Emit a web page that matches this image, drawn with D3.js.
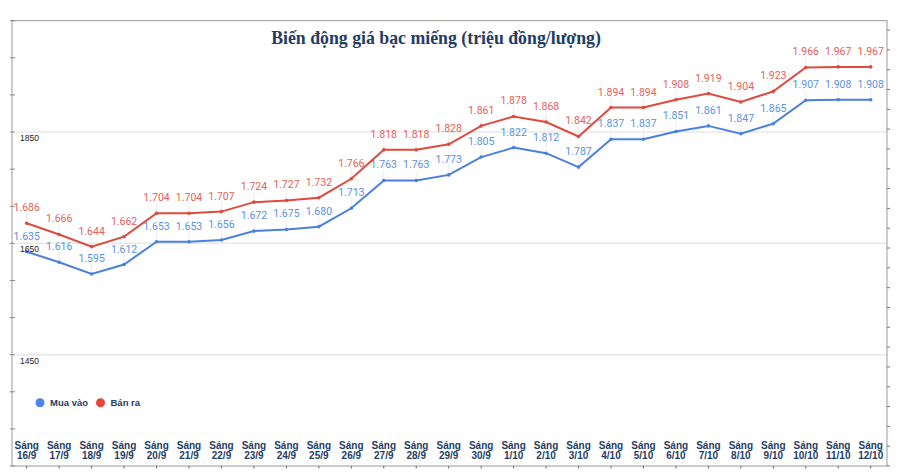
<!DOCTYPE html>
<html><head><meta charset="utf-8">
<script src="https://cdn.jsdelivr.net/npm/d3@7/dist/d3.min.js"></script>
<style>
html,body{margin:0;padding:0;background:#fff;}
svg{display:block;}
</style>
</head><body>
<svg id="chart" width="901" height="476"></svg>
<script>
const categories = ["16/9","17/9","18/9","19/9","20/9","21/9","22/9","23/9","24/9","25/9","26/9","27/9","28/9","29/9","30/9","1/10","2/10","3/10","4/10","5/10","6/10","7/10","8/10","9/10","10/10","11/10","12/10"];
const muaVao = [1635,1616,1595,1612,1653,1653,1656,1672,1675,1680,1713,1763,1763,1773,1805,1822,1812,1787,1837,1837,1851,1861,1847,1865,1907,1908,1908];
const banRa  = [1686,1666,1644,1662,1704,1704,1707,1724,1727,1732,1766,1818,1818,1828,1861,1878,1868,1842,1894,1894,1908,1919,1904,1923,1966,1967,1967];
const yTickLabels = [1450,1650,1850];
const yDomain = [1250,2050];
const title = "Biến động giá bạc miếng (triệu đồng/lượng)";
const seriesNames = ["Mua vào","Bán ra"];

(function(){
const svg = d3.select("#chart");
const L = 12, R = 887, T = 20.7, B = 466;
const x = d3.scalePoint().domain(categories).range([26.7, 870.7]);
const y = d3.scaleLinear().domain(yDomain).range([B, T]);

const blue = "#4a80e0", red = "#dd4a3e";
const blueTxt = "#5c91de", redTxt = "#e2625a";
const navy = "#1f3d66";

// gridlines
svg.append("g").selectAll("line").data(yTickLabels).join("line")
  .attr("x1", 16).attr("x2", R).attr("y1", d=>y(d)).attr("y2", d=>y(d))
  .attr("stroke", "#e8e8e8").attr("stroke-width", 1.5);

// frame
svg.append("rect").attr("x", L).attr("y", T).attr("width", R-L).attr("height", B-T)
  .attr("fill","none").attr("stroke","#9a9a9a").attr("stroke-width",1);

// left minor ticks
const leftTicks = d3.range(0, 13).map(i => yDomain[0] + i*(200/3));
svg.append("g").selectAll("line").data(leftTicks).join("line")
  .attr("x1", 10).attr("x2", 15).attr("y1", d=>y(d)).attr("y2", d=>y(d))
  .attr("stroke", "#888").attr("stroke-width", 1);

// right ticks
const rightTicks = d3.range(yDomain[0], yDomain[1]+1, 35.6);
svg.append("g").selectAll("line").data(rightTicks).join("line")
  .attr("x1", R).attr("x2", R+3).attr("y1", d=>y(d)).attr("y2", d=>y(d))
  .attr("stroke", "#777").attr("stroke-width", 1);

// bottom ticks
svg.append("g").selectAll("line").data(categories).join("line")
  .attr("x1", d=>x(d)).attr("x2", d=>x(d)).attr("y1", B).attr("y2", B+2.5)
  .attr("stroke", "#666").attr("stroke-width", 1);

// x labels
const xl = svg.append("g").selectAll("text").data(categories).join("text")
  .attr("x", d=>x(d)).attr("text-anchor","middle")
  .attr("font-family","Liberation Sans, Arial, sans-serif").attr("font-size", 10).attr("font-weight","bold")
  .attr("fill", navy);
xl.append("tspan").attr("x", d=>x(d)).attr("y", 448.5).text("Sáng");
xl.append("tspan").attr("x", d=>x(d)).attr("y", 458.5).text(d=>d);

// title
svg.append("text").attr("x", 436).attr("y", 43.5).attr("text-anchor","middle")
  .attr("font-family","Liberation Serif, Times New Roman, serif").attr("font-weight","bold")
  .attr("font-size", 17.8).attr("fill", navy).text(title);

const fmt = v => (v/1000).toFixed(3);
function drawSeries(vals, lineColor, txtColor){
  const g = svg.append("g");
  g.selectAll("line.stem").data(vals).join("line").attr("class","stem")
    .attr("x1",(d,i)=>x(categories[i])).attr("x2",(d,i)=>x(categories[i]))
    .attr("y1", d=>y(d)-10).attr("y2", d=>y(d))
    .attr("stroke","#ececec").attr("stroke-width",1);
  g.append("path").datum(vals)
    .attr("d", d3.line().x((d,i)=>x(categories[i])).y(d=>y(d)))
    .attr("fill","none").attr("stroke",lineColor).attr("stroke-width",2);
  g.selectAll("circle").data(vals).join("circle")
    .attr("cx",(d,i)=>x(categories[i])).attr("cy",d=>y(d)).attr("r",1.8).attr("fill",lineColor);
  g.selectAll("text").data(vals).join("text")
    .attr("x",(d,i)=>x(categories[i])).attr("y",d=>y(d)-12)
    .attr("text-anchor","middle").attr("font-family","Roboto, sans-serif").attr("font-size",10.5)
    .attr("fill",txtColor).text(d=>fmt(d));
}
drawSeries(muaVao, blue, blueTxt);
drawSeries(banRa, red, redTxt);

// y labels (on top of lines)
svg.append("g").selectAll("text").data(yTickLabels).join("text")
  .attr("x", 20).attr("y", d=>y(d)+9)
  .attr("font-family","Liberation Sans, Arial, sans-serif").attr("font-size", 8.5)
  .attr("fill","#222").text(d=>d);

// legend
const leg = svg.append("g");
const legItems = [{n:seriesNames[0], c:"#4a86ec", x:40},{n:seriesNames[1], c:"#e8443a", x:100.5}];
leg.selectAll("circle").data(legItems).join("circle")
  .attr("cx",d=>d.x).attr("cy",402.7).attr("r",4.5).attr("fill",d=>d.c);
leg.selectAll("text").data(legItems).join("text")
  .attr("x",d=>d.x+10).attr("y",406)
  .attr("font-family","Liberation Sans, Arial, sans-serif").attr("font-size",9.5).attr("font-weight","bold")
  .attr("fill",navy).text(d=>d.n);
})();
</script>
</body></html>
